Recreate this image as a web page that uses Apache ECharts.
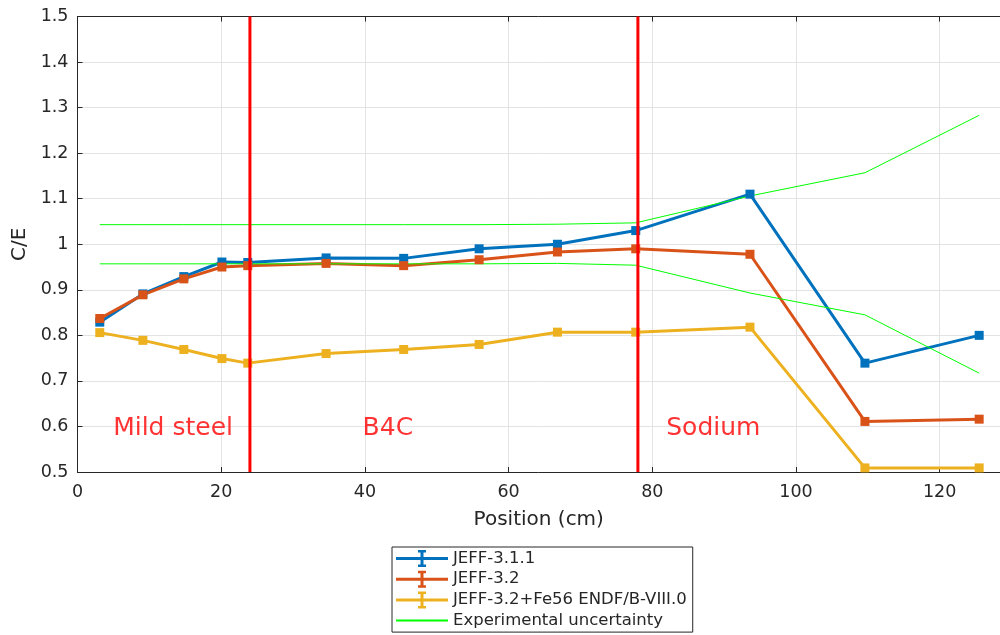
<!DOCTYPE html>
<html>
<head>
<meta charset="utf-8">
<title>C/E vs position</title>
<script src="https://cdn.jsdelivr.net/npm/echarts@6/dist/echarts.min.js"></script>
<style>
  html, body { margin: 0; padding: 0; background: #fff; }
  #chart { width: 1000px; height: 635px; }
</style>
</head>
<body>
<div id="chart"></div>
<script>
// Measurement positions along the core (cm)
const positions = [3.1, 9.1, 14.8, 20.1, 23.7, 34.6, 45.4, 55.9, 66.8, 77.7, 93.6, 109.6, 125.5];

// Calculated / experimental ratios per nuclear data library
const jeff311 = [0.829, 0.891, 0.929, 0.961, 0.960, 0.970, 0.969, 0.990, 1.000, 1.030, 1.110, 0.739, 0.800];
const jeff32  = [0.837, 0.889, 0.924, 0.950, 0.953, 0.958, 0.953, 0.966, 0.983, 0.990, 0.978, 0.611, 0.616];
const jeff32fe = [0.806, 0.789, 0.769, 0.749, 0.739, 0.760, 0.769, 0.780, 0.807, 0.807, 0.818, 0.509, 0.509];

// Experimental uncertainty band (upper and lower bounds)
const uncUpper = [1.043, 1.043, 1.043, 1.043, 1.043, 1.043, 1.043, 1.043, 1.044, 1.047, 1.106, 1.157, 1.283];
const uncLower = [0.957, 0.957, 0.957, 0.957, 0.957, 0.957, 0.957, 0.957, 0.958, 0.954, 0.893, 0.845, 0.717];

// Material boundaries and region names
const boundaries = [24, 78];
const regionNames = ['Mild steel', 'B4C', 'Sodium'];
const regionX = [13.3, 43.2, 88.5];
const regionY = 0.596;

// Axis ranges and ticks (the x range runs on past the right edge of the page)
const xMin = 0, xMax = 128.4, xStep = 20;
const yMin = 0.5, yMax = 1.5, yStep = 0.1;

const seriesNames = ['JEFF-3.1.1', 'JEFF-3.2', 'JEFF-3.2+Fe56 ENDF/B-VIII.0', 'Experimental uncertainty'];

const zip = (xs, ys) => xs.map((x, i) => [x, ys[i]]);
const textColor = '#262626';
const font = 'DejaVu Sans';

// legend glyph: series line with a capped error bar across its middle
const errIcon = 'path://M0,7h52v3h-52z M24.5,1h3v15h-3z M22,0h8v2.5h-8z M22,14.5h8v2.5h-8z';

function dataSeries(name, values, color) {
  return {
    name: name,
    type: 'line',
    data: zip(positions, values),
    symbol: 'rect',
    symbolSize: 9,
    showSymbol: true,
    lineStyle: { color: color, width: 3 },
    itemStyle: { color: color },
    emphasis: { disabled: true }
  };
}

function bandSeries(values) {
  return {
    name: seriesNames[3],
    type: 'line',
    data: zip(positions, values),
    symbol: 'none',
    lineStyle: { color: '#00ff00', width: 1 },
    itemStyle: { color: '#00ff00' },
    emphasis: { disabled: true }
  };
}

// vertical red line marking a material boundary, spanning the full y range
function boundarySeries(x) {
  return {
    name: 'boundary ' + x,
    type: 'line',
    data: [[x, yMin], [x, yMax]],
    symbol: 'none',
    silent: true,
    z: 5,
    lineStyle: { color: '#ff0000', width: 3, opacity: 1 },
    emphasis: { disabled: true }
  };
}

const chart = echarts.init(document.getElementById('chart'), null, { renderer: 'canvas' });

const axisCommon = {
  type: 'value',
  axisLine: { show: true, onZero: false, lineStyle: { color: textColor, width: 1 } },
  axisTick: { show: true, inside: true, length: 5, lineStyle: { color: textColor } },
  axisLabel: { color: textColor, fontFamily: font, fontSize: 17.5 }
};

chart.setOption({
  animation: false,
  backgroundColor: '#ffffff',
  grid: { left: 77.5, right: 0, top: 16.5, bottom: 163, containLabel: false },
  xAxis: [
    Object.assign({}, axisCommon, {
      min: xMin, max: xMax, interval: xStep,
      position: 'bottom',
      name: 'Position (cm)',
      nameLocation: 'middle',
      nameGap: 38,
      nameTextStyle: { color: textColor, fontFamily: font, fontSize: 20 },
      axisLabel: Object.assign({}, axisCommon.axisLabel, { margin: 11, showMaxLabel: false }),
      splitLine: { show: true, lineStyle: { color: '#e3e3e3', width: 1 } }
    }),
    Object.assign({}, axisCommon, {
      min: xMin, max: xMax, interval: xStep,
      position: 'top',
      axisLabel: { show: false },
      splitLine: { show: false }
    })
  ],
  yAxis: {
    ...axisCommon,
    min: yMin, max: yMax, interval: yStep,
    name: 'C/E',
    nameLocation: 'middle',
    nameGap: 44,
    nameRotate: 90,
    nameTextStyle: { color: textColor, fontFamily: font, fontSize: 20 },
    axisLabel: {
      ...axisCommon.axisLabel,
      margin: 9,
      formatter: v => String(Math.round(v * 10) / 10)
    },
    splitLine: { show: true, lineStyle: { color: '#e3e3e3', width: 1 } }
  },
  legend: {
    orient: 'vertical',
    left: 392,
    top: 547,
    padding: [3, 6, 3, 3],
    backgroundColor: '#ffffff',
    borderColor: '#262626',
    borderWidth: 1,
    borderRadius: 0,
    itemWidth: 52,
    itemHeight: 17,
    itemGap: 3.7,
    selectedMode: false,
    textStyle: { color: textColor, fontFamily: font, fontSize: 16.5 },
    data: [
      { name: seriesNames[0], icon: errIcon },
      { name: seriesNames[1], icon: errIcon },
      { name: seriesNames[2], icon: errIcon },
      { name: seriesNames[3], itemStyle: { color: 'rgba(0,0,0,0)', borderWidth: 0 } }
    ]
  },
  series: [
    dataSeries(seriesNames[0], jeff311, '#0072bd'),
    dataSeries(seriesNames[1], jeff32, '#d95319'),
    dataSeries(seriesNames[2], jeff32fe, '#edb120'),
    bandSeries(uncUpper),
    bandSeries(uncLower),
    ...boundaries.map(boundarySeries),
    {
      name: 'regions',
      type: 'scatter',
      silent: true,
      symbolSize: 0,
      data: regionNames.map((n, i) => [regionX[i], regionY, n]),
      label: {
        show: true,
        position: 'inside',
        formatter: p => p.data[2],
        color: '#ff0000',
        fontFamily: font,
        fontSize: 25
      }
    }
  ]
});
</script>
</body>
</html>
